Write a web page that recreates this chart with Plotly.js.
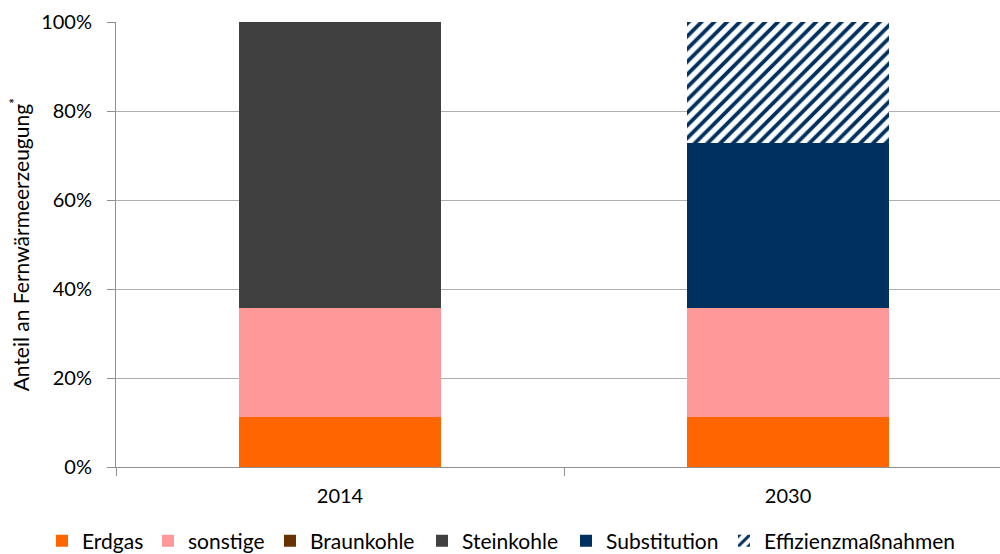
<!DOCTYPE html>
<html>
<head>
<meta charset="utf-8">
<script src="https://cdn.plot.ly/plotly-3.0.1.min.js"></script>
<style>
html,body{margin:0;padding:0;background:#fff;}
#chart{width:1000px;height:554px;}
</style>
</head>
<body>
<div id="chart"></div>
<script>
const categories = ['2014', '2030'];
const seriesNames = ['Erdgas', 'sonstige', 'Braunkohle', 'Steinkohle', 'Substitution', 'Effizienzmaßnahmen'];
const erdgas = [11.2, 11.2];
const sonstige = [24.5, 24.5];
const braunkohle = [0, 0];
const steinkohle = [64.3, 0];
const substitution = [0, 37.1];
const effizienz = [0, 27.2];
const yTickVals = [0, 20, 40, 60, 80, 100];
const yTickText = ['0%', '20%', '40%', '60%', '80%', '100%'];

const colors = ['#FF6600', '#FF9999', '#663300', '#404040', '#00305E', '#FFFFFF'];
const values = [erdgas, sonstige, braunkohle, steinkohle, substitution, effizienz];
// legend entry left positions (container fraction), one legend box per series
const legendX = [0.042, 0.148, 0.270, 0.422, 0.566, 0.724];

const barWidth = 0.45;
const font = 'Lato, "Open Sans", sans-serif';

const data = seriesNames.map((name, i) => {
  const t = {
    type: 'bar', name: name, x: categories, y: values[i], width: barWidth,
    marker: {color: colors[i], line: {width: 0}},
    hoverinfo: 'skip',
    legend: i === 0 ? 'legend' : 'legend' + (i + 1)
  };
  if (i === 5) t.marker.pattern = {shape: '/', fgcolor: '#00305E', bgcolor: '#FFFFFF', size: 9, solidity: 0.42};
  return t;
});

const layout = {
  width: 1000, height: 554,
  margin: {l: 116, r: 0, t: 22, b: 87},
  barmode: 'stack',
  paper_bgcolor: '#FFFFFF',
  plot_bgcolor: '#FFFFFF',
  font: {family: font, size: 20, color: '#000000'},
  showlegend: true,
  xaxis: {
    type: 'category',
    range: [-0.5, 1.473],
    tickson: 'boundaries',
    ticks: 'outside', ticklen: 8, tickcolor: '#909090', tickwidth: 1,
    showline: true, linecolor: '#909090', linewidth: 1,
    showgrid: false,
    ticklabelstandoff: 11,
    tickfont: {family: font, size: 20, color: '#000000'}
  },
  yaxis: {
    range: [0, 100],
    tickvals: yTickVals, ticktext: yTickText,
    ticks: 'outside', ticklen: 8, tickcolor: '#909090', tickwidth: 1,
    showline: true, linecolor: '#909090', linewidth: 1,
    showgrid: true, gridcolor: '#B0B0B0', gridwidth: 1,
    zeroline: false,
    ticklabelstandoff: 11,
    tickfont: {family: font, size: 20, color: '#000000'},
    title: {text: 'Anteil an Fernwärmeerzeugung<sup>*</sup>', font: {family: font, size: 21, color: '#000000'}, standoff: 5}
  }
};

legendX.forEach((lx, i) => {
  const key = i === 0 ? 'legend' : 'legend' + (i + 1);
  layout[key] = {
    orientation: 'h',
    xref: 'container', yref: 'container',
    x: lx, xanchor: 'left',
    y: 0.0235, yanchor: 'middle',
    font: {family: font, size: 21, color: '#000000'},
    itemwidth: 30,
    bgcolor: 'rgba(0,0,0,0)',
    borderwidth: 0
  };
});

Plotly.newPlot('chart', data, layout, {displayModeBar: false, staticPlot: true});
</script>
</body>
</html>
